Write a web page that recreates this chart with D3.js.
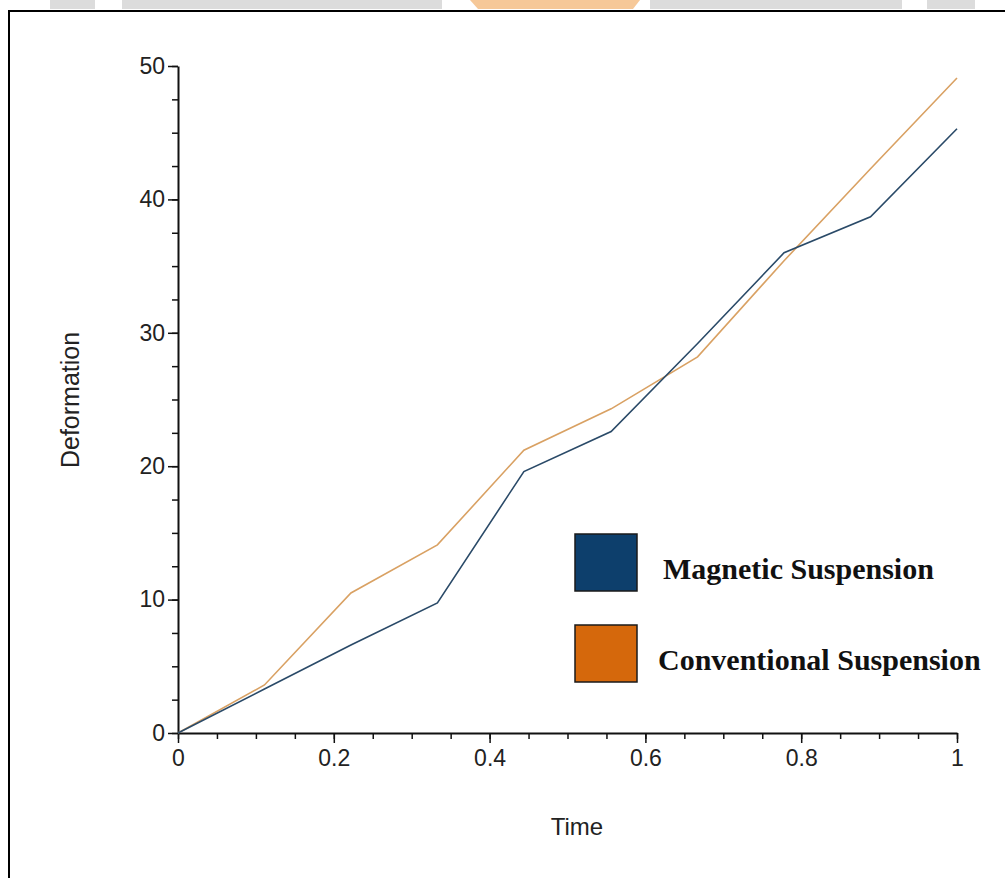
<!DOCTYPE html>
<html>
<head>
<meta charset="utf-8">
<script src="https://cdn.jsdelivr.net/npm/d3@7"></script>
<style>
  html, body { margin: 0; padding: 0; background: #fff; }
  svg { display: block; }
</style>
</head>
<body>
<div id="chart"></div>
<script>
// data
const time = [0, 0.111, 0.222, 0.333, 0.444, 0.556, 0.667, 0.778, 0.889, 1];
const magnetic = [0, 3.3, 6.6, 9.75, 19.6, 22.6, 29.2, 36.0, 38.7, 45.3];
const conventional = [0, 3.6, 10.5, 14.1, 21.2, 24.3, 28.2, 35.4, 42.3, 49.1];
const seriesNames = ["Magnetic Suspension", "Conventional Suspension"];
const xTicks = [0, 0.2, 0.4, 0.6, 0.8, 1];
const yTicks = [0, 10, 20, 30, 40, 50];

const W = 1005, H = 878;
const svg = d3.select("#chart").append("svg")
    .attr("width", W)
    .attr("height", H);

// faint watermark strip at the very top
const wm = svg.append("g");
[[50, 45], [122, 320], [650, 252], [927, 48]].forEach(r => {
    wm.append("rect").attr("x", r[0]).attr("y", 0).attr("width", r[1]).attr("height", 9)
        .attr("fill", "#dcdcdc");
});
wm.append("path").attr("d", "M470,0 L640,0 L633,9 L478,9 Z").attr("fill", "#f6c898");

// frame
svg.append("path")
    .attr("d", `M9,${H} L9,11 L${W},11`)
    .attr("fill", "none")
    .attr("stroke", "#000")
    .attr("stroke-width", 2);

const x = d3.scaleLinear().domain([0, 1]).range([178, 957]);
const y = d3.scaleLinear().domain([0, 50]).range([733, 66]);

// minor ticks
svg.append("g")
    .attr("transform", "translate(178,0)")
    .call(d3.axisLeft(y).tickValues(d3.range(0, 50.1, 2.5)).tickSize(6).tickFormat(""))
    .call(g => g.select(".domain").remove())
    .selectAll("line").attr("stroke", "#111").attr("stroke-width", 1.5);
svg.append("g")
    .attr("transform", "translate(0,733)")
    .call(d3.axisBottom(x).tickValues(d3.range(0, 1.001, 0.05)).tickSize(6).tickFormat(""))
    .call(g => g.select(".domain").remove())
    .selectAll("line").attr("stroke", "#111").attr("stroke-width", 1.5);

// major axes
const yAxis = svg.append("g")
    .attr("transform", "translate(178,0)")
    .call(d3.axisLeft(y).tickValues(yTicks).tickSize(10).tickSizeOuter(0).tickPadding(3));
const xAxis = svg.append("g")
    .attr("transform", "translate(0,733)")
    .call(d3.axisBottom(x).tickValues(xTicks).tickSize(10).tickSizeOuter(0).tickPadding(7)
        .tickFormat(d => d3.format("")(d)));

[xAxis, yAxis].forEach(g => {
    g.select(".domain").attr("stroke", "#111").attr("stroke-width", 2);
    g.selectAll(".tick line").attr("stroke", "#111").attr("stroke-width", 1.5);
    g.selectAll(".tick text")
        .attr("font-family", "Liberation Sans, Arial, sans-serif")
        .attr("font-size", 23)
        .attr("fill", "#222");
});

// lines
const line = d3.line().x((d, i) => x(time[i])).y(d => y(d));
svg.append("path")
    .datum(conventional)
    .attr("fill", "none")
    .attr("stroke", "#d9a163")
    .attr("stroke-width", 1.6)
    .attr("d", line);
svg.append("path")
    .datum(magnetic)
    .attr("fill", "none")
    .attr("stroke", "#2a4a68")
    .attr("stroke-width", 1.6)
    .attr("d", line);

// axis titles
svg.append("text")
    .attr("x", 577).attr("y", 835)
    .attr("text-anchor", "middle")
    .attr("font-family", "Liberation Sans, Arial, sans-serif")
    .attr("font-size", 24)
    .attr("fill", "#222")
    .text("Time");
svg.append("text")
    .attr("transform", "translate(79,400) rotate(-90)")
    .attr("text-anchor", "middle")
    .attr("font-family", "Liberation Sans, Arial, sans-serif")
    .attr("font-size", 25)
    .attr("fill", "#222")
    .text("Deformation");

// legend
const legendColors = ["#0d3f6c", "#d5680c"];
const legend = svg.append("g");
seriesNames.forEach((name, i) => {
    const top = 534 + i * 91;
    legend.append("rect")
        .attr("x", 575).attr("y", top)
        .attr("width", 62).attr("height", 57)
        .attr("fill", legendColors[i])
        .attr("stroke", "#1a1a1a")
        .attr("stroke-width", 1.5);
    legend.append("text")
        .attr("x", i === 0 ? 663 : 658).attr("y", top + 45)
        .attr("font-family", "Liberation Serif, Times New Roman, serif")
        .attr("font-size", 30)
        .attr("font-weight", "bold")
        .attr("fill", "#111")
        .text(name);
});
</script>
</body>
</html>
